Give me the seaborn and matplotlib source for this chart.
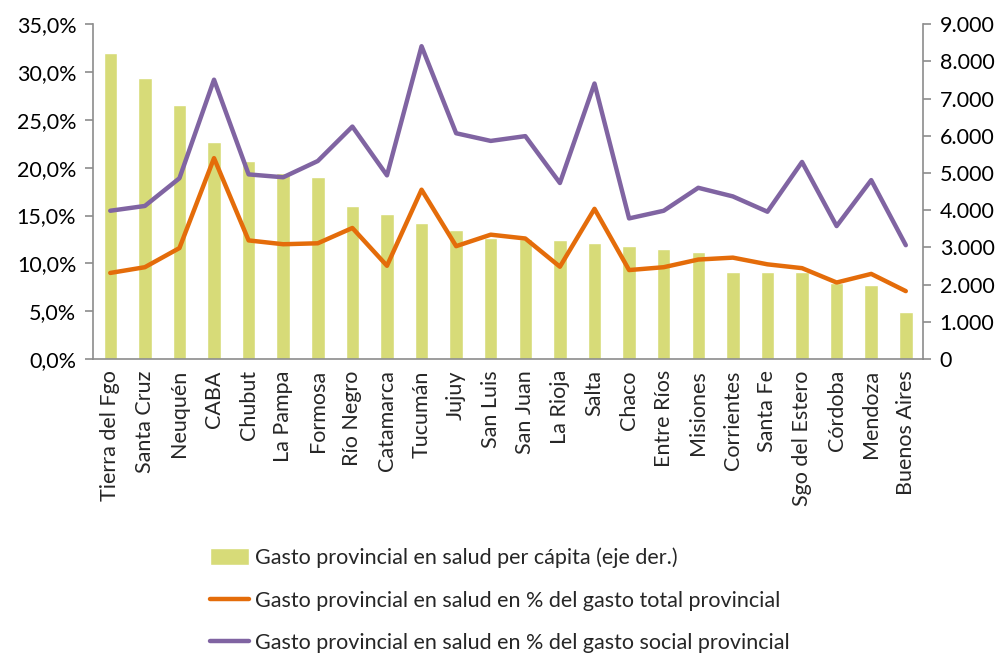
import numpy as np
import pandas as pd
import matplotlib
matplotlib.use("Agg")
import matplotlib.pyplot as plt
import seaborn as sns
from matplotlib.ticker import FuncFormatter, MultipleLocator

provincias = ["Tierra del Fgo", "Santa Cruz", "Neuquén", "CABA", "Chubut", "La Pampa",
              "Formosa", "Río Negro", "Catamarca", "Tucumán", "Jujuy", "San Luis",
              "San Juan", "La Rioja", "Salta", "Chaco", "Entre Ríos", "Misiones",
              "Corrientes", "Santa Fe", "Sgo del Estero", "Córdoba", "Mendoza", "Buenos Aires"]

# Gasto provincial en salud per cápita (eje derecho)
per_capita = [8230, 7560, 6820, 5840, 5320, 4990, 4880, 4120, 3900, 3650, 3470, 3260,
              3230, 3200, 3130, 3040, 2950, 2870, 2350, 2340, 2350, 2050, 1990, 1270]

# Gasto en salud como % del gasto total provincial
pct_total = [9.0, 9.6, 11.6, 21.0, 12.4, 12.0, 12.1, 13.7, 9.75, 17.7, 11.8, 13.0,
             12.6, 9.65, 15.7, 9.3, 9.6, 10.4, 10.6, 9.9, 9.5, 8.0, 8.9, 7.1]

# Gasto en salud como % del gasto social provincial
pct_social = [15.5, 16.0, 18.9, 29.2, 19.3, 19.0, 20.7, 24.3, 19.2, 32.7, 23.6, 22.8,
              23.3, 18.4, 28.8, 14.7, 15.5, 17.9, 17.0, 15.4, 20.6, 13.9, 18.7, 11.9]

lbl_bar = "Gasto provincial en salud per cápita (eje der.)"
lbl_total = "Gasto provincial en salud en % del gasto total provincial"
lbl_social = "Gasto provincial en salud en % del gasto social provincial"

sns.set_theme(style="white")
plt.rcParams["font.family"] = ["Lato", "DejaVu Sans"]

c_bar = "#D7DB78"
c_orange = "#E46C0A"
c_purple = "#8064A2"
c_spine = "#8C8C8C"
fs = 15.5

fig = plt.figure(figsize=(10.05, 6.54), dpi=100)
ax = fig.add_axes([0.0925, 0.451, 0.826, 0.512])

df = pd.DataFrame({"prov": provincias, "pc": per_capita,
                   "tot": pct_total, "soc": pct_social})

# Bars on the primary axes (scale shown on the right)
sns.barplot(data=df, x="prov", y="pc", color=c_bar, saturation=1, width=0.39,
            ax=ax, label=lbl_bar)
ax.set_ylim(0, 9000)
ax.set_xlim(-0.5, len(provincias) - 0.5)

# Lines on a twin axes (scale shown on the left)
ax2 = ax.twinx()
xpos = np.arange(len(provincias))
sns.lineplot(x=xpos, y=df["tot"], color=c_orange, lw=3.2, ax=ax2, label=lbl_total)
sns.lineplot(x=xpos, y=df["soc"], color=c_purple, lw=3.2, ax=ax2, label=lbl_social)
ax2.set_ylim(0, 35)
ax2.set_xlim(-0.5, len(provincias) - 0.5)

# Swap sides: bars' scale on the right, percentages on the left
ax.yaxis.tick_right()
ax.yaxis.set_label_position("right")
ax2.yaxis.tick_left()
ax2.yaxis.set_label_position("left")

ax.yaxis.set_major_locator(MultipleLocator(1000))
ax.yaxis.set_major_formatter(FuncFormatter(lambda v, p: f"{int(v):,}".replace(",", ".")))
ax2.yaxis.set_major_locator(MultipleLocator(5))
ax2.yaxis.set_major_formatter(FuncFormatter(lambda v, p: f"{v:.1f}%".replace(".", ",")))

for a in (ax, ax2):
    a.set_xlabel("")
    a.set_ylabel("")
    a.spines["top"].set_visible(False)
    for s in ("left", "right", "bottom"):
        a.spines[s].set_color(c_spine)
        a.spines[s].set_linewidth(1.2)
    a.tick_params(axis="both", direction="out", length=6, width=1.2, color=c_spine,
                  labelsize=fs, labelcolor="black")
    a.grid(False)

ax.spines["left"].set_visible(False)
ax2.spines["right"].set_visible(False)
ax2.spines["bottom"].set_visible(False)

# Category ticks sit between the bars; labels stay centred under each bar
ax.set_xticks(np.arange(len(provincias) + 1) - 0.5)
ax.set_xticklabels([])
ax.set_xticks(np.arange(len(provincias)), minor=True)
ax.set_xticklabels(provincias, minor=True, rotation=90, fontsize=fs)
ax.tick_params(axis="x", which="minor", length=0, pad=8)
ax.tick_params(axis="x", which="major", length=6)
ax.tick_params(axis="y", pad=6)
ax2.tick_params(axis="y", pad=6)

if ax.get_legend():
    ax.get_legend().remove()
if ax2.get_legend():
    ax2.get_legend().remove()

h1, l1 = ax.get_legend_handles_labels()
h2, l2 = ax2.get_legend_handles_labels()
fig.legend(h1 + h2, l1 + l2, loc="upper left", bbox_to_anchor=(0.2, 0.176),
           frameon=False, fontsize=fs, handlelength=1.85, handleheight=0.8,
           handletextpad=0.25, labelspacing=1.05, borderaxespad=0)

fig.savefig("out.png", dpi=100)
